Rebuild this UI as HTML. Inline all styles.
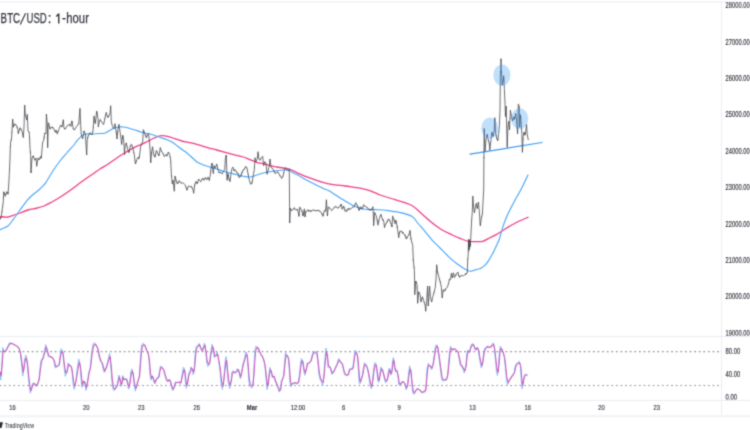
<!DOCTYPE html>
<html><head><meta charset="utf-8"><title>BTC/USD: 1-hour</title>
<style>
html,body{margin:0;padding:0;background:#fff;}
body{width:750px;height:430px;overflow:hidden;font-family:"Liberation Sans",sans-serif;}
svg{display:block;font-family:"Liberation Sans",sans-serif;}
</style></head><body>
<svg width="750" height="430" viewBox="0 0 750 430">
<rect width="750" height="430" fill="#ffffff"/>
<defs><filter id="bl" x="0" y="0" width="750" height="430" filterUnits="userSpaceOnUse"><feConvolveMatrix order="3" kernelMatrix="0.0289 0.1122 0.0289 0.1122 0.4356 0.1122 0.0289 0.1122 0.0289" divisor="1" edgeMode="duplicate" preserveAlpha="false"/></filter></defs>
<g filter="url(#bl)">

<g stroke="#ebedf3" stroke-width="1" fill="none">
<line x1="0" y1="2.0" x2="750" y2="2.0"/>
<line x1="0" y1="336.5" x2="750" y2="336.5"/>
<line x1="0" y1="400.5" x2="750" y2="400.5"/>
<line x1="721.5" y1="2" x2="721.5" y2="416"/>
</g>
<rect x="0" y="415" width="750" height="2.4" fill="#f3f4f8"/>
<g stroke="#94979f" stroke-width="1.05" stroke-dasharray="1.8 2.8" stroke-dashoffset="0.46" fill="none">
<line x1="0" y1="351.6" x2="722" y2="351.6"/>
<line x1="0" y1="385.5" x2="722" y2="385.5"/>
</g>
<path d="M0.0,216.7 C1.3,216.8 5.8,217.2 8.0,217.0 C10.2,216.8 11.3,216.0 13.3,215.3 C15.3,214.6 17.6,213.9 20.0,213.0 C22.4,212.1 25.1,210.8 28.0,210.0 C30.9,209.2 34.6,208.7 37.3,208.0 C40.0,207.3 41.8,206.9 44.0,206.0 C46.2,205.1 48.0,204.1 50.7,202.7 C53.4,201.2 56.7,199.4 60.0,197.3 C63.3,195.2 66.9,192.7 70.7,190.0 C74.5,187.3 78.9,183.7 82.7,181.0 C86.5,178.3 90.4,175.7 93.3,173.7 C96.2,171.7 97.5,170.6 100.0,169.0 C102.5,167.4 104.7,166.4 108.3,164.0 C111.9,161.6 117.2,157.5 121.7,154.7 C126.2,151.9 131.7,148.9 135.0,147.2 C138.3,145.5 139.5,145.3 141.7,144.3 C143.9,143.3 146.1,142.1 148.3,141.0 C150.5,139.9 152.8,138.6 155.0,137.7 C157.2,136.8 159.5,135.9 161.7,135.7 C163.9,135.5 166.1,136.1 168.3,136.6 C170.5,137.1 172.8,138.0 175.0,138.7 C177.2,139.4 179.5,140.4 181.7,141.0 C183.9,141.6 185.8,141.8 188.3,142.3 C190.8,142.9 194.2,143.6 196.7,144.3 C199.2,145.0 201.1,145.6 203.3,146.3 C205.5,147.0 207.8,147.7 210.0,148.3 C212.2,148.9 213.4,149.1 216.7,150.0 C220.0,150.9 225.6,152.5 230.0,153.7 C234.4,154.9 240.0,156.0 243.3,157.0 C246.6,158.0 247.8,158.8 250.0,159.7 C252.2,160.6 254.5,161.6 256.7,162.3 C258.9,163.0 261.1,163.1 263.3,163.7 C265.5,164.3 267.8,165.1 270.0,165.7 C272.2,166.2 274.5,166.6 276.7,167.0 C278.9,167.4 281.1,167.6 283.3,168.0 C285.5,168.4 287.5,168.5 290.0,169.4 C292.5,170.3 294.7,171.8 298.3,173.3 C301.9,174.9 307.5,177.1 311.7,178.7 C315.9,180.3 320.4,181.8 323.7,182.7 C327.0,183.6 328.1,183.8 331.7,184.3 C335.2,184.9 341.2,185.5 345.0,186.0 C348.8,186.5 351.4,186.9 354.3,187.3 C357.2,187.8 359.4,188.0 362.3,188.7 C365.2,189.4 368.7,190.2 371.7,191.3 C374.7,192.4 376.4,193.6 380.3,195.0 C384.2,196.4 389.9,198.0 395.0,199.7 C400.1,201.4 406.6,202.7 411.0,205.0 C415.4,207.3 418.1,210.7 421.7,213.7 C425.2,216.7 429.0,220.3 432.3,223.0 C435.6,225.7 438.4,227.7 441.7,229.7 C445.0,231.7 449.0,233.4 452.3,235.0 C455.6,236.6 459.0,237.9 461.7,239.0 C464.4,240.1 466.1,240.9 468.3,241.3 C470.5,241.7 472.6,241.6 475.0,241.6 C477.4,241.6 480.1,242.0 482.7,241.3 C485.3,240.6 488.0,238.6 490.7,237.3 C493.4,236.0 496.0,234.9 498.7,233.3 C501.4,231.8 503.6,229.9 506.7,228.0 C509.8,226.1 513.8,223.8 517.3,222.0 C520.8,220.2 526.2,218.1 528.0,217.3" fill="none" stroke="#ec3f86" stroke-width="1.3" stroke-linejoin="round" stroke-linecap="round"/>
<path d="M0.0,229.6 C0.9,229.2 3.8,228.0 5.3,227.3 C6.8,226.6 7.4,226.6 8.7,225.3 C10.0,224.0 11.4,221.9 13.3,219.3 C15.2,216.8 17.6,213.3 20.0,210.0 C22.4,206.7 25.8,201.9 28.0,199.3 C30.2,196.7 31.5,195.9 33.3,194.3 C35.1,192.8 37.4,191.1 38.7,190.0 C40.0,188.9 40.1,189.0 41.3,187.7 C42.5,186.4 44.0,185.2 46.0,182.3 C48.0,179.4 51.0,173.9 53.3,170.3 C55.6,166.8 57.8,163.9 60.0,161.0 C62.2,158.1 64.4,155.7 66.7,153.0 C69.0,150.3 72.2,147.1 74.0,145.0 C75.8,142.9 75.6,142.1 77.3,140.3 C79.0,138.6 81.3,135.6 84.0,134.5 C86.7,133.4 90.6,134.2 93.3,134.0 C96.0,133.8 98.2,133.6 100.0,133.5 C101.8,133.4 102.9,133.7 104.3,133.3 C105.7,132.9 106.7,132.1 108.3,131.3 C109.9,130.5 111.5,129.1 113.7,128.3 C115.9,127.5 119.3,126.8 121.7,126.7 C124.1,126.7 126.1,127.5 128.3,128.0 C130.5,128.6 132.8,129.3 135.0,130.0 C137.2,130.7 139.0,131.6 141.7,132.3 C144.4,133.0 148.1,133.5 151.0,134.3 C153.9,135.1 156.3,136.1 159.0,137.0 C161.7,137.9 164.8,138.8 167.0,139.7 C169.2,140.6 170.5,141.2 172.3,142.3 C174.1,143.4 176.1,145.1 177.7,146.3 C179.3,147.5 180.4,148.4 181.7,149.3 C183.0,150.2 184.3,150.9 185.7,152.0 C187.1,153.1 188.2,154.1 190.0,155.7 C191.8,157.3 194.5,160.1 196.7,161.7 C198.9,163.2 201.1,164.1 203.3,165.0 C205.5,165.9 207.8,166.3 210.0,167.0 C212.2,167.7 214.5,168.3 216.7,169.0 C218.9,169.7 221.1,170.6 223.3,171.3 C225.5,172.0 227.8,172.4 230.0,173.0 C232.2,173.6 234.5,174.1 236.7,174.7 C238.9,175.2 241.1,175.9 243.3,176.3 C245.5,176.7 247.8,177.2 250.0,177.0 C252.2,176.8 254.5,175.7 256.7,175.0 C258.9,174.3 261.1,173.6 263.3,173.0 C265.5,172.4 267.8,172.1 270.0,171.7 C272.2,171.3 274.5,171.0 276.7,170.7 C278.9,170.4 281.1,170.1 283.3,170.0 C285.5,169.9 288.6,170.0 290.0,170.3 C291.4,170.6 290.3,171.2 291.7,172.0 C293.1,172.8 296.1,174.1 298.3,175.3 C300.5,176.5 302.8,178.1 305.0,179.3 C307.2,180.5 308.6,181.1 311.7,182.7 C314.8,184.3 320.8,187.4 323.7,188.7 C326.6,190.0 327.0,189.6 329.0,190.7 C331.0,191.8 333.5,193.6 335.7,195.0 C337.9,196.4 340.1,197.9 342.3,199.3 C344.5,200.7 346.8,202.1 349.0,203.3 C351.2,204.5 353.0,205.7 355.7,206.7 C358.4,207.7 361.8,208.8 365.0,209.3 C368.2,209.8 371.6,209.4 375.0,209.6 C378.4,209.8 381.7,209.9 385.7,210.3 C389.7,210.8 394.7,211.3 399.0,212.3 C403.3,213.3 408.6,214.5 411.7,216.3 C414.8,218.1 415.4,220.3 417.7,223.0 C420.0,225.7 423.3,229.4 425.7,232.3 C428.1,235.2 430.3,238.1 432.3,240.3 C434.3,242.5 436.4,244.4 437.7,245.7 C439.0,247.0 438.1,246.1 440.0,248.0 C441.9,249.9 446.4,254.6 449.3,257.3 C452.2,260.0 454.6,262.0 457.3,264.0 C460.0,266.0 463.1,268.1 465.3,269.3 C467.5,270.5 468.9,271.2 470.7,271.3 C472.5,271.4 474.2,270.2 476.0,269.6 C477.8,269.1 479.5,269.1 481.3,268.0 C483.1,266.9 484.9,265.5 486.7,263.3 C488.5,261.1 490.4,257.5 492.0,254.7 C493.6,251.9 494.8,249.3 496.0,246.7 C497.2,244.1 498.2,242.5 499.3,239.3 C500.4,236.1 501.5,231.1 502.7,227.3 C503.9,223.5 504.9,220.7 506.7,216.7 C508.5,212.7 511.0,207.8 513.3,203.3 C515.6,198.9 518.2,194.7 520.7,190.0 C523.2,185.3 526.8,177.5 528.0,175.0" fill="none" stroke="#4aa5f7" stroke-width="1.15" stroke-linejoin="round" stroke-linecap="round"/>
<line x1="470" y1="154.2" x2="542" y2="142.5" stroke="#3b9af3" stroke-width="1.25" stroke-linecap="round"/>
<path d="M0.0,219.3 L1.3,216.7 L2.7,206.0 L3.3,202.0 L3.7,191.7 L5.3,196.3 L6.7,191.7 L8.0,194.3 L8.7,185.0 L9.3,174.3 L10.0,158.0 L10.3,148.0 L10.7,141.7 L11.5,139.0 L12.7,119.0 L13.3,127.0 L14.7,123.7 L16.7,126.3 L18.0,129.7 L18.2,133.7 L20.0,127.7 L22.0,131.0 L23.3,137.7 L24.0,127.0 L24.7,105.0 L25.3,115.0 L26.7,119.7 L27.3,114.3 L28.0,131.0 L29.3,132.3 L30.0,148.3 L30.7,155.7 L31.0,173.0 L32.0,158.3 L33.3,155.7 L34.7,160.3 L36.0,158.3 L36.7,166.3 L38.0,158.3 L39.3,159.7 L40.7,156.3 L41.3,158.3 L42.0,150.0 L42.5,143.0 L44.0,139.0 L44.7,133.0 L46.0,133.7 L46.4,114.3 L47.3,124.3 L47.7,147.7 L48.2,124.0 L48.7,123.0 L50.0,129.0 L51.3,127.0 L53.3,127.7 L55.3,132.3 L56.0,130.3 L57.3,133.7 L59.3,128.3 L60.7,125.0 L62.0,127.0 L63.3,119.7 L64.0,128.3 L65.3,129.0 L67.3,125.7 L69.3,124.3 L70.7,126.3 L72.0,121.0 L73.3,129.0 L74.7,129.7 L76.7,126.3 L78.7,123.7 L80.0,108.3 L80.7,125.7 L81.3,135.0 L82.7,139.0 L84.0,131.0 L85.3,133.7 L86.7,155.0 L87.2,140.0 L88.0,136.3 L90.0,133.0 L92.0,135.0 L93.0,131.0 L94.0,116.3 L95.3,123.7 L96.7,111.0 L98.0,119.0 L98.3,127.0 L99.3,121.7 L100.3,119.7 L102.3,123.0 L103.7,124.3 L105.0,117.7 L106.3,112.3 L107.7,117.7 L109.0,115.7 L110.0,113.7 L110.7,105.7 L111.3,121.7 L112.3,125.7 L113.7,129.0 L115.0,123.7 L116.3,132.3 L117.0,139.0 L118.3,127.0 L119.0,124.3 L120.3,133.7 L121.7,144.3 L122.7,135.0 L123.7,140.3 L124.6,154.7 L125.0,146.3 L126.3,143.0 L127.7,149.7 L129.0,152.7 L130.3,145.7 L131.7,144.5 L133.0,148.8 L134.3,154.7 L135.4,164.0 L136.6,160.0 L138.0,157.3 L139.0,158.7 L140.0,152.0 L140.5,147.0 L141.7,143.7 L142.7,142.3 L143.3,129.7 L144.3,132.3 L145.4,135.0 L146.3,137.7 L147.7,134.3 L148.6,133.7 L149.4,141.7 L150.0,148.0 L150.7,162.7 L151.7,152.0 L152.6,146.7 L153.7,154.7 L155.0,157.3 L156.3,150.5 L157.7,153.3 L159.0,156.0 L160.3,147.5 L161.7,152.0 L163.0,153.3 L164.3,156.7 L165.7,154.7 L167.0,156.0 L168.3,152.0 L169.7,154.7 L170.7,160.0 L171.3,173.3 L172.3,184.0 L173.0,180.0 L174.3,191.3 L175.0,176.0 L176.3,181.3 L177.7,184.0 L179.0,180.7 L181.0,183.3 L183.0,182.7 L185.0,184.7 L187.0,190.0 L188.3,186.0 L190.3,186.7 L192.0,187.0 L193.3,191.0 L193.7,193.3 L194.7,185.0 L196.0,181.7 L197.3,183.7 L198.7,179.0 L200.7,181.7 L202.7,178.3 L204.0,180.3 L205.3,177.7 L206.7,179.7 L208.0,177.0 L209.3,180.3 L210.3,175.0 L211.0,168.3 L212.0,163.0 L213.3,173.7 L214.0,165.7 L215.3,168.3 L216.7,164.3 L218.0,169.7 L219.3,173.0 L220.7,172.3 L222.0,173.7 L223.3,171.7 L224.7,169.7 L225.3,159.0 L226.3,155.0 L227.0,180.3 L228.0,173.7 L229.0,179.0 L230.0,181.7 L231.0,173.7 L232.0,168.3 L233.0,167.0 L234.0,171.0 L235.3,169.7 L236.7,172.3 L238.0,173.7 L239.3,177.7 L240.7,176.3 L242.0,172.3 L243.3,170.3 L244.7,168.3 L245.7,166.3 L247.0,168.3 L248.0,173.7 L249.3,180.3 L250.7,184.3 L252.0,183.0 L253.3,175.0 L254.3,169.7 L255.0,157.7 L256.0,161.7 L257.3,159.0 L258.0,151.7 L259.0,159.0 L260.0,160.3 L261.3,157.7 L262.7,156.3 L263.6,165.7 L264.7,161.7 L266.0,163.0 L267.0,174.3 L268.0,171.0 L269.3,165.7 L270.0,159.0 L271.0,167.0 L272.4,168.3 L274.0,171.0 L275.3,173.7 L276.7,171.7 L278.0,172.3 L279.3,174.3 L280.7,177.0 L282.0,178.3 L283.3,175.0 L284.4,169.7 L285.3,167.7 L286.7,169.0 L288.0,170.3 L289.3,169.7 L289.7,223.0 L290.3,208.0 L291.7,210.7 L294.3,208.0 L295.7,210.0 L297.7,209.3 L299.0,216.3 L299.7,207.3 L301.7,210.0 L303.0,216.0 L304.3,209.3 L305.0,217.0 L305.7,212.0 L307.7,210.0 L310.3,211.3 L313.0,210.0 L315.7,210.7 L318.3,210.4 L321.0,212.0 L323.0,216.3 L324.3,210.7 L325.7,211.3 L326.4,199.7 L327.4,216.0 L328.3,206.7 L330.3,208.7 L331.7,210.7 L333.7,208.0 L335.7,206.7 L337.7,208.0 L339.7,206.7 L341.3,204.0 L342.3,209.3 L343.7,206.0 L345.0,210.7 L346.3,211.3 L348.3,208.7 L350.3,209.3 L352.3,207.3 L354.3,206.7 L355.7,202.7 L357.7,206.0 L359.0,210.7 L360.3,207.3 L362.3,208.7 L363.7,204.7 L365.7,206.7 L367.7,208.0 L369.7,210.0 L371.7,209.3 L373.0,206.7 L373.7,225.7 L374.6,212.3 L376.3,216.0 L378.0,224.7 L379.5,217.7 L381.0,214.3 L382.3,219.0 L383.7,221.0 L384.5,227.7 L385.7,223.7 L387.0,222.3 L388.3,219.0 L389.7,220.3 L391.0,223.7 L392.0,227.0 L392.6,216.3 L393.7,218.3 L395.0,223.7 L396.0,220.3 L397.0,225.7 L397.7,229.7 L398.7,237.7 L399.7,231.7 L401.0,231.0 L403.0,233.0 L405.0,235.0 L406.3,239.0 L407.7,236.3 L409.0,235.0 L410.0,230.3 L411.0,239.0 L412.0,243.0 L412.7,245.3 L413.3,260.0 L414.4,270.7 L414.8,294.7 L415.7,281.0 L417.0,284.0 L417.7,303.3 L418.7,292.0 L420.0,294.0 L421.0,302.0 L422.4,296.7 L423.7,300.7 L425.0,304.7 L425.7,311.3 L426.7,300.7 L427.6,286.0 L428.3,306.0 L429.6,286.0 L430.4,296.7 L431.7,302.0 L432.7,296.7 L434.0,292.7 L435.3,287.3 L436.0,279.0 L436.7,264.7 L437.5,272.0 L438.3,275.0 L439.3,278.7 L440.3,282.0 L441.4,287.5 L442.2,298.0 L443.2,290.0 L444.7,291.0 L446.0,288.7 L447.5,287.0 L448.7,282.7 L449.5,279.0 L450.7,279.3 L451.3,273.3 L452.3,278.0 L453.3,272.7 L454.4,277.3 L455.7,275.3 L456.7,273.3 L458.0,272.0 L458.7,276.0 L460.0,277.3 L461.3,275.3 L463.3,276.0 L464.7,274.7 L466.0,274.0 L467.3,272.7 L467.7,260.0 L468.2,254.7 L468.5,239.3 L468.8,251.0 L469.1,240.5 L469.5,249.0 L469.9,239.5 L470.3,246.5 L470.6,240.7 L471.2,230.0 L471.7,219.3 L472.3,212.0 L472.8,196.0 L473.3,203.3 L474.4,212.7 L475.3,207.3 L476.3,203.3 L477.3,208.7 L478.4,202.0 L479.3,211.3 L480.3,226.0 L481.3,218.0 L482.4,214.0 L483.0,202.0 L483.7,190.0 L483.9,160.0 L484.2,128.4 L485.0,151.4 L486.0,139.6 L487.1,134.3 L488.2,139.6 L489.3,143.9 L489.8,150.3 L490.9,140.7 L491.9,132.1 L493.0,136.4 L494.1,131.0 L494.8,117.7 L495.7,133.2 L496.7,138.0 L497.8,140.7 L498.7,133.2 L499.4,125.7 L500.0,110.0 L500.4,72.0 L501.0,70.0 L501.0,58.6 L501.0,70.0 L501.6,72.0 L502.2,85.3 L503.2,80.0 L503.7,75.7 L504.4,89.6 L505.1,106.0 L505.5,116.7 L506.2,106.0 L506.6,125.0 L507.2,147.5 L508.0,125.7 L508.7,121.2 L509.5,130.0 L510.4,110.3 L511.5,116.7 L512.6,121.0 L513.6,116.7 L514.7,118.9 L515.8,113.5 L516.8,124.2 L517.6,134.0 L518.3,104.4 L519.2,106.0 L519.7,127.4 L520.5,114.6 L521.3,125.3 L521.9,134.3 L522.4,152.4 L523.2,136.4 L524.0,132.1 L525.1,135.3 L525.8,131.0 L526.5,124.4 L527.2,134.0 L528.3,140.1" fill="none" stroke="#44464c" stroke-width="0.78" stroke-linejoin="round"/>
<path d="M0.40,218.0V219.6M1.17,216.0V217.7M1.94,210.9V212.2M2.70,205.6V206.4M3.47,196.3V198.1M4.24,192.2V194.7M5.77,193.3V195.1M7.31,192.4V193.4M8.07,192.0V193.8M10.38,145.8V147.2M11.14,139.7V141.3M11.91,131.4V133.1M13.45,125.4V127.8M14.21,123.9V125.8M16.52,124.6V126.5M17.28,126.6V128.3M18.82,130.5V132.9M21.12,128.4V130.6M26.49,117.9V120.1M28.80,131.0V132.9M29.56,137.5V138.9M30.33,151.4V153.0M31.10,170.9V172.3M32.63,156.2V158.0M35.70,158.0V159.5M38.01,157.8V158.9M38.77,158.3V160.1M39.54,158.8V159.9M40.31,156.3V158.7M44.15,136.4V139.0M46.45,114.1V115.3M47.98,133.8V134.7M48.75,122.5V123.6M49.52,126.3V127.2M50.29,128.2V129.9M51.82,126.6V127.9M52.59,127.0V128.8M55.66,130.8V132.0M56.43,130.1V131.9M57.19,132.0V134.4M57.96,131.0V132.2M61.80,126.0V127.2M64.87,128.2V130.0M69.47,123.6V125.3M70.24,125.3V126.3M71.01,123.9V126.5M71.78,120.5V123.4M73.31,128.4V129.6M74.08,128.8V130.4M78.68,122.6V125.1M81.75,135.1V137.0M84.06,130.3V132.6M85.59,137.7V138.6M87.89,135.5V138.3M89.43,133.0V134.4M90.20,131.7V134.3M92.50,131.7V134.3M93.27,126.5V127.7M94.03,115.5V117.1M94.80,120.4V122.3M95.57,120.4V122.3M97.10,112.1V114.4M99.41,120.7V122.0M100.17,118.7V120.5M103.24,123.0V124.8M104.78,117.8V119.4M105.55,114.2V116.3M108.62,115.3V117.2M116.29,131.3V133.7M117.83,130.9V132.2M118.59,125.3V126.2M121.66,142.9V145.1M122.43,136.1V138.9M123.20,136.2V138.4M126.27,142.3V144.0M127.04,146.0V147.2M128.57,150.7V152.5M129.34,150.2V151.9M130.87,143.7V146.5M132.41,146.2V147.2M133.94,152.6V153.9M136.25,160.7V162.6M138.55,157.7V159.2M139.32,156.2V158.0M141.62,142.6V144.3M143.92,130.4V132.7M144.69,132.8V134.2M145.46,134.7V135.7M146.23,136.9V138.1M146.99,134.8V136.7M148.53,133.0V134.1M149.30,140.3V141.8M150.83,160.4V162.7M151.60,151.8V153.9M153.90,154.2V156.2M155.44,153.7V156.2M156.97,151.1V152.2M157.74,153.0V154.6M158.51,154.5V155.4M161.58,151.0V152.2M163.11,152.8V154.2M166.18,153.7V155.9M166.95,155.6V156.7M169.25,152.9V154.1M170.02,156.0V157.2M170.79,161.6V162.5M171.55,175.0V176.9M175.39,176.9V179.1M176.16,179.6V181.8M176.93,181.2V183.9M180.00,181.1V182.9M186.14,187.4V188.2M186.90,189.3V191.0M191.51,185.7V188.1M194.58,184.8V186.6M195.35,182.7V184.5M196.11,180.7V183.3M197.65,181.7V183.7M200.72,181.2V182.3M202.25,178.1V179.4M203.02,178.2V179.9M205.32,176.8V178.6M206.86,178.0V179.9M209.16,179.1V181.2M210.70,170.6V171.8M212.23,163.9V165.4M214.53,165.5V167.7M216.84,163.5V165.7M217.60,167.7V168.9M219.14,172.1V173.3M219.91,171.4V173.0M222.21,172.0V174.5M223.74,170.3V171.8M226.05,155.2V156.7M226.81,173.1V174.8M227.58,175.0V177.1M228.35,174.6V176.1M229.12,177.9V180.7M234.49,169.3V171.4M236.79,172.0V173.8M237.56,172.4V173.9M238.33,173.5V176.2M239.09,176.0V177.7M240.63,175.9V176.9M241.40,172.8V175.1M242.16,170.7V173.5M242.93,170.4V171.4M243.70,169.0V170.1M244.47,168.0V169.6M246.77,167.1V168.9M247.54,170.5V171.6M248.30,173.8V175.7M251.37,183.0V184.2M252.14,181.3V183.6M254.44,166.9V168.4M257.51,156.0V158.2M260.58,158.7V159.6M267.49,171.4V173.3M269.79,160.5V161.6M272.10,167.6V168.9M273.63,169.8V171.4M274.40,171.2V172.7M278.24,172.1V174.1M279.77,174.9V176.1M281.31,177.0V178.7M282.84,175.8V176.9M283.61,172.4V174.1M286.68,167.5V169.7M288.21,169.6V171.4M288.98,168.4V170.7M289.75,221.2V222.6M292.05,209.6V210.9M293.59,208.4V209.1M294.35,206.7V209.4M297.42,208.9V210.8M298.96,215.0V216.8M299.73,206.6V207.8M300.49,207.7V209.1M302.03,210.1V212.1M302.80,213.8V216.3M303.56,212.7V214.0M304.33,208.2V210.2M305.10,214.9V216.6M305.87,210.6V213.1M306.63,210.7V211.4M308.17,209.0V211.6M308.94,210.0V212.1M310.47,210.1V211.9M311.24,210.5V212.1M314.31,209.8V211.2M316.61,210.0V211.4M318.91,209.5V211.9M321.98,213.4V214.8M323.52,213.5V215.3M324.29,210.4V211.1M325.82,207.8V210.7M327.36,214.9V215.7M329.66,207.5V208.9M334.26,206.3V208.3M335.80,205.6V207.3M336.57,206.7V207.7M338.87,206.5V208.7M340.40,204.2V206.6M341.94,206.5V208.7M344.24,207.3V208.4M345.01,209.2V211.7M346.54,209.6V211.8M347.31,208.8V211.4M348.08,208.0V210.0M348.84,208.1V209.3M349.61,208.5V210.1M351.15,208.1V209.1M352.68,206.5V207.7M354.98,204.3V205.5M357.29,204.8V206.5M358.05,206.6V208.0M359.59,208.2V209.9M360.36,206.0V208.8M361.12,207.3V209.1M361.89,208.1V209.8M362.66,206.4V208.5M364.96,205.6V206.9M367.26,206.7V208.5M368.80,208.5V210.0M370.33,208.9V211.0M371.87,208.5V210.4M374.17,217.3V219.4M377.24,219.6V221.4M378.01,223.3V225.9M378.78,220.5V221.9M380.31,215.4V216.5M382.61,218.5V220.7M383.38,219.2V221.0M386.45,222.1V223.9M387.22,220.7V222.6M387.99,219.5V220.8M389.52,218.9V221.4M391.06,223.0V224.3M391.82,225.6V226.8M392.59,215.5V216.8M394.13,218.9V221.3M395.66,220.5V222.2M397.20,225.5V228.3M399.50,231.4V233.8M401.80,230.6V233.2M402.57,231.8V233.8M403.34,232.0V234.0M404.87,234.0V236.3M405.64,236.4V237.9M406.41,238.4V239.3M407.17,235.9V238.4M408.71,234.0V235.7M411.01,237.7V240.0M413.31,258.7V261.2M414.08,266.4V268.2M416.38,281.4V283.4M417.15,287.0V288.6M418.69,291.1V293.6M420.99,301.6V302.3M421.76,298.1V300.0M424.06,301.2V302.9M424.83,303.9V304.9M425.59,309.6V310.9M427.90,293.5V295.4M428.66,299.0V301.0M429.43,288.2V289.6M431.73,301.2V302.1M434.04,291.5V293.4M436.34,270.7V272.4M437.87,272.8V273.8M439.41,278.1V280.5M440.18,281.1V282.6M443.25,289.4V290.7M444.01,289.2V291.8M445.55,288.2V290.7M448.62,282.6V283.6M449.39,278.8V280.7M452.46,276.2V278.0M454.76,275.7V278.2M455.53,274.2V275.9M456.29,273.5V275.3M458.60,274.1V276.1M459.36,275.3V277.7M465.50,273.1V275.3M466.27,273.2V274.8M467.04,271.6V273.4M467.81,258.4V260.3M468.57,241.8V242.6M469.34,244.5V246.7M471.64,219.5V221.2M474.71,209.5V212.2M476.25,203.0V203.9M477.02,205.9V208.4M480.09,222.5V223.3M481.62,216.1V217.6M482.39,213.4V214.7M483.92,156.7V158.8M486.99,134.0V135.6M488.53,139.7V141.8M489.30,142.6V144.3M490.83,141.0V141.8M493.13,134.8V136.6M494.67,119.3V120.9M496.20,134.2V136.3M496.97,137.5V139.6M497.74,139.5V140.9M501.58,71.1V72.7M503.11,79.1V80.8M503.88,78.7V80.7M505.41,113.1V115.0M510.02,117.9V119.1M513.09,118.1V120.1M514.62,117.9V120.1M515.39,115.0V116.2M517.69,129.5V130.6M518.46,103.8V105.2M519.23,106.8V108.8M520.76,116.7V118.6M521.53,127.3V130.0M523.07,138.5V140.1M523.83,132.4V133.8M524.60,133.1V135.1" fill="none" stroke="#44464c" stroke-width="0.55" stroke-opacity="0.75"/>
<g fill="#2f96f3" fill-opacity="0.30">
<ellipse cx="501.9" cy="75.1" rx="8.5" ry="10.7"/>
<ellipse cx="489.8" cy="128.3" rx="8.5" ry="10.7"/>
<ellipse cx="519.7" cy="118.7" rx="8.5" ry="10.5"/>
</g>
<path d="M-0.5,372.1 L0.7,380.1 L1.7,365.0 L2.7,347.5 L4.2,351.6 L6.1,350.2 L7.6,346.7 L9.5,342.8 L12.0,343.1 L14.2,344.9 L16.4,345.7 L18.6,347.3 L20.0,351.3 L21.5,363.7 L22.7,376.1 L23.7,368.5 L24.7,358.3 L25.9,355.1 L27.1,362.9 L28.1,374.8 L29.3,386.6 L30.3,393.2 L31.5,388.5 L32.5,383.4 L34.0,382.9 L35.9,386.6 L37.3,384.7 L38.8,380.3 L39.8,370.2 L41.0,360.4 L42.8,357.8 L44.2,352.3 L45.7,344.6 L46.7,348.7 L48.2,356.5 L50.1,357.1 L52.0,357.2 L53.8,360.4 L55.2,367.9 L57.0,367.0 L58.9,365.7 L59.9,356.7 L61.1,348.7 L62.5,350.1 L63.7,363.1 L65.2,376.3 L66.7,373.3 L68.1,362.8 L69.6,364.9 L71.1,365.9 L72.1,372.4 L73.3,385.5 L74.3,389.3 L75.7,382.0 L77.2,369.3 L78.7,358.9 L79.9,363.6 L80.9,376.9 L81.9,387.5 L83.1,380.9 L84.3,381.4 L86.0,390.4 L87.2,383.3 L88.6,373.3 L90.1,368.3 L91.6,353.0 L93.0,344.0 L94.5,342.7 L96.3,345.1 L97.7,348.9 L99.2,357.7 L100.7,362.0 L102.1,363.4 L103.3,369.7 L104.3,372.6 L106.0,368.0 L107.4,362.8 L108.9,356.2 L109.6,353.2 L110.7,364.6 L111.8,380.5 L113.0,389.1 L114.0,390.7 L115.5,388.6 L117.0,385.3 L118.0,379.9 L118.9,375.1 L119.9,380.3 L120.9,386.7 L121.8,382.4 L122.5,375.5 L123.6,379.9 L125.0,378.7 L126.5,378.9 L127.7,385.8 L128.7,389.3 L129.7,382.9 L130.9,371.6 L131.8,368.9 L132.8,372.4 L133.8,382.7 L135.3,391.2 L136.5,385.9 L137.9,380.2 L139.1,377.8 L140.0,364.6 L140.9,351.1 L141.9,344.3 L143.4,343.3 L144.8,345.3 L146.3,350.3 L147.8,352.2 L148.9,358.8 L150.0,375.1 L151.0,380.1 L152.2,375.7 L153.6,380.9 L154.6,384.0 L155.8,379.9 L157.3,377.6 L158.5,377.8 L159.5,370.6 L160.5,366.0 L162.0,367.2 L163.4,369.6 L164.9,375.6 L166.4,380.7 L167.5,381.9 L169.0,379.0 L170.2,381.3 L171.7,387.9 L172.7,390.7 L173.9,387.6 L175.2,381.9 L176.6,382.4 L178.5,382.3 L180.5,384.3 L181.9,376.0 L183.4,367.0 L184.4,368.9 L185.4,381.5 L186.3,388.3 L187.3,383.2 L188.5,374.0 L190.0,371.1 L191.0,366.9 L192.2,369.4 L193.2,374.7 L194.2,369.1 L195.1,354.7 L196.1,346.7 L197.6,345.2 L199.1,343.5 L200.5,348.7 L202.0,351.8 L203.5,346.1 L204.5,343.0 L205.7,352.2 L206.8,363.1 L207.9,366.5 L209.3,364.9 L210.7,351.7 L212.1,344.2 L213.2,348.7 L214.3,357.7 L215.7,355.7 L217.1,351.9 L218.6,360.2 L220.1,371.9 L221.2,384.1 L222.4,389.5 L223.4,382.1 L224.5,369.7 L225.3,359.7 L226.1,356.6 L227.1,369.7 L228.3,383.5 L229.7,388.6 L230.9,381.3 L231.9,371.8 L233.3,370.8 L234.7,373.3 L236.2,371.8 L237.4,368.5 L238.5,370.3 L239.6,376.3 L240.3,378.8 L241.5,372.5 L242.9,364.1 L244.4,358.6 L245.9,351.8 L246.9,353.7 L247.9,366.9 L248.8,380.8 L249.8,386.6 L251.3,387.7 L252.5,387.5 L253.5,376.0 L254.4,358.7 L255.2,348.3 L256.4,345.9 L257.9,347.4 L259.4,351.9 L260.8,355.0 L262.3,356.6 L263.8,360.7 L264.9,366.3 L266.0,378.5 L267.0,389.6 L267.9,385.5 L268.9,373.7 L269.9,367.3 L271.1,371.9 L272.3,377.6 L273.7,375.8 L274.9,380.4 L276.2,383.5 L277.7,387.4 L279.1,392.1 L280.2,390.8 L281.3,380.7 L282.5,378.7 L283.5,376.3 L284.6,361.9 L285.5,352.4 L286.9,354.9 L288.1,356.6 L289.0,366.5 L289.9,382.6 L290.9,386.8 L292.3,383.7 L294.5,382.5 L296.7,384.0 L298.2,383.6 L299.4,375.2 L300.4,364.7 L301.4,358.5 L302.6,360.6 L303.6,370.5 L304.8,375.4 L306.0,369.2 L307.2,362.9 L308.9,363.1 L310.7,361.3 L312.1,355.1 L313.3,351.8 L315.1,351.8 L316.5,351.4 L317.7,360.6 L318.9,374.6 L320.1,379.4 L321.5,382.4 L322.6,385.3 L323.6,378.2 L324.8,360.0 L325.9,348.0 L327.0,353.8 L328.0,367.5 L329.2,366.8 L330.3,368.6 L331.8,374.5 L333.3,372.6 L335.0,368.3 L336.8,364.1 L338.7,358.5 L340.2,361.4 L342.1,363.7 L343.5,370.8 L344.6,374.8 L346.0,375.5 L347.9,375.6 L349.4,368.9 L351.2,369.0 L352.6,369.7 L353.8,359.8 L354.8,350.6 L356.0,350.7 L357.3,355.2 L358.2,367.1 L359.2,383.3 L360.0,384.0 L361.1,378.7 L362.2,376.0 L363.2,369.0 L364.4,362.6 L366.1,364.5 L367.6,369.5 L369.0,377.9 L370.2,385.9 L371.4,388.8 L372.4,381.6 L373.4,370.9 L374.6,362.9 L375.8,363.0 L376.8,371.5 L377.8,381.0 L378.7,382.6 L379.7,374.7 L380.9,366.9 L382.2,369.1 L383.4,374.6 L384.6,379.9 L385.6,382.8 L387.1,380.2 L388.3,371.5 L389.3,368.0 L390.5,375.3 L391.5,373.3 L392.5,361.3 L393.4,357.5 L394.4,367.6 L395.4,371.7 L396.6,369.9 L397.8,375.7 L398.8,385.1 L400.3,385.2 L401.7,381.6 L403.2,381.2 L404.7,384.2 L406.1,389.8 L407.3,386.6 L408.3,375.5 L409.5,365.9 L410.5,368.4 L411.6,382.3 L412.7,392.8 L413.9,394.5 L415.4,390.9 L416.8,388.4 L418.6,389.2 L420.4,391.2 L421.8,393.1 L423.3,392.3 L425.4,391.9 L426.1,382.9 L427.1,367.6 L428.3,363.2 L429.8,365.6 L431.5,369.7 L432.7,365.9 L434.2,355.3 L435.3,346.7 L436.4,344.4 L437.4,345.5 L438.6,354.5 L440.0,366.2 L441.5,378.9 L442.7,381.1 L444.4,380.5 L446.2,380.4 L447.4,376.4 L448.4,364.6 L449.6,350.7 L450.6,346.2 L452.1,350.1 L453.2,348.9 L454.7,348.6 L456.2,350.6 L457.6,350.9 L458.8,356.7 L460.3,365.3 L462.0,366.9 L463.5,370.3 L464.2,373.0 L465.7,367.1 L466.7,354.3 L467.6,349.9 L469.1,352.5 L470.2,348.3 L471.6,344.1 L473.0,343.7 L474.2,347.7 L475.5,350.3 L477.0,347.0 L478.2,349.3 L479.3,357.2 L480.5,364.2 L481.4,368.1 L482.5,362.7 L483.7,351.7 L484.9,348.1 L486.2,347.1 L487.4,346.1 L489.1,347.8 L490.6,347.1 L492.1,344.3 L493.3,342.8 L494.3,348.2 L495.5,360.3 L496.5,371.8 L497.5,375.7 L498.4,367.5 L499.4,350.8 L500.4,346.1 L501.6,348.6 L503.1,352.6 L504.3,357.5 L505.3,367.1 L506.3,378.3 L507.5,384.9 L508.9,381.3 L510.7,377.6 L512.6,374.8 L514.1,373.0 L515.2,366.0 L516.3,363.8 L517.7,362.6 L519.2,361.2 L520.4,365.7 L521.3,380.7 L522.1,388.8 L523.3,380.1 L524.3,374.9 L525.8,374.0 L527.0,375.4" fill="none" stroke="#7cc0fa" stroke-width="0.95" stroke-linejoin="round"/>
<path d="M0.0,371.7 L1.2,376.1 L2.2,364.4 L3.2,350.5 L4.7,351.9 L6.6,349.7 L8.1,346.8 L10.0,343.6 L12.5,343.6 L14.7,345.0 L16.9,346.1 L19.1,348.3 L20.5,352.7 L22.0,362.9 L23.2,372.5 L24.2,367.3 L25.2,360.0 L26.4,357.8 L27.6,364.4 L28.6,374.7 L29.8,384.9 L30.8,390.8 L32.0,387.9 L33.0,384.2 L34.5,383.5 L36.4,385.7 L37.8,383.5 L39.3,379.1 L40.3,370.3 L41.5,361.5 L43.3,357.8 L44.7,352.7 L46.2,346.8 L47.2,349.7 L48.7,355.6 L50.6,356.8 L52.5,357.8 L54.3,360.7 L55.7,366.6 L57.5,365.9 L59.4,364.4 L60.4,357.1 L61.6,351.2 L63.0,352.7 L64.2,362.9 L65.7,373.2 L67.2,371.7 L68.6,364.4 L70.1,365.9 L71.6,367.3 L72.6,373.2 L73.8,383.5 L74.8,386.4 L76.2,380.5 L77.7,370.3 L79.2,362.2 L80.4,365.9 L81.4,376.1 L82.4,384.9 L83.6,381.3 L84.8,382.0 L86.5,387.9 L87.7,382.0 L89.1,373.2 L90.6,367.3 L92.1,354.1 L93.5,346.1 L95.0,344.2 L96.8,346.1 L98.2,349.7 L99.7,357.1 L101.2,361.5 L102.6,363.7 L103.8,368.8 L104.8,371.0 L106.5,367.3 L107.9,362.9 L109.4,357.8 L110.1,356.3 L111.2,365.9 L112.3,379.1 L113.5,387.1 L114.5,389.3 L116.0,387.9 L117.5,384.9 L118.5,380.5 L119.4,376.9 L120.4,380.5 L121.4,384.9 L122.3,382.0 L123.0,376.9 L124.1,379.8 L125.5,379.1 L127.0,379.8 L128.2,384.9 L129.2,387.1 L130.2,382.0 L131.4,373.2 L132.3,371.0 L133.3,373.9 L134.3,382.0 L135.8,388.6 L137.0,384.9 L138.4,379.8 L139.6,376.1 L140.5,364.4 L141.4,352.7 L142.4,346.1 L143.9,344.6 L145.3,346.1 L146.8,350.5 L148.3,353.4 L149.4,360.0 L150.5,373.2 L151.5,378.3 L152.7,376.4 L154.1,380.5 L155.1,382.7 L156.3,379.8 L157.8,377.6 L159.0,376.9 L160.0,371.0 L161.0,367.3 L162.5,368.1 L163.9,370.3 L165.4,375.4 L166.9,379.8 L168.0,381.3 L169.5,379.8 L170.7,382.0 L172.2,387.1 L173.2,389.3 L174.4,387.1 L175.7,382.7 L177.1,382.7 L179.0,382.0 L181.0,382.7 L182.4,376.1 L183.9,369.5 L184.9,371.0 L185.9,380.5 L186.8,385.7 L187.8,382.0 L189.0,374.7 L190.5,371.7 L191.5,368.1 L192.7,369.5 L193.7,372.5 L194.7,367.3 L195.6,355.6 L196.6,348.3 L198.1,346.1 L199.6,344.6 L201.0,348.3 L202.5,350.5 L204.0,346.8 L205.0,345.3 L206.2,352.7 L207.3,361.5 L208.4,364.4 L209.8,362.9 L211.2,352.7 L212.6,346.8 L213.7,349.7 L214.8,356.3 L216.2,355.6 L217.6,354.1 L219.1,361.5 L220.6,371.7 L221.7,382.0 L222.9,386.4 L223.9,380.5 L225.0,370.3 L225.8,362.2 L226.6,360.0 L227.6,370.3 L228.8,381.3 L230.2,385.7 L231.4,380.5 L232.4,373.2 L233.8,371.7 L235.2,372.9 L236.7,371.7 L237.9,369.5 L239.0,371.0 L240.1,375.4 L240.8,376.9 L242.0,371.7 L243.4,364.4 L244.9,359.3 L246.4,354.1 L247.4,356.3 L248.4,367.3 L249.3,379.1 L250.3,384.9 L251.8,386.1 L253.0,384.9 L254.0,374.7 L254.9,360.0 L255.7,350.5 L256.9,347.5 L258.4,348.3 L259.9,351.9 L261.3,354.9 L262.8,357.1 L264.3,361.5 L265.4,367.3 L266.5,377.6 L267.5,386.4 L268.4,383.5 L269.4,374.7 L270.4,369.5 L271.6,372.5 L272.8,376.9 L274.2,376.4 L275.4,380.5 L276.7,383.5 L278.2,387.1 L279.6,390.5 L280.7,389.3 L281.8,381.3 L283.0,378.3 L284.0,374.7 L285.1,362.9 L286.0,354.9 L287.4,356.3 L288.6,358.5 L289.5,367.3 L290.4,380.5 L291.4,384.9 L292.8,383.5 L295.0,382.7 L297.2,383.2 L298.7,382.0 L299.9,374.7 L300.9,365.9 L301.9,360.7 L303.1,362.2 L304.1,369.5 L305.3,373.2 L306.5,368.8 L307.7,363.7 L309.4,362.9 L311.2,360.7 L312.6,355.6 L313.8,352.7 L315.6,352.7 L317.0,353.4 L318.2,361.5 L319.4,373.2 L320.6,378.3 L322.0,381.3 L323.1,382.7 L324.1,376.1 L325.3,361.5 L326.4,351.9 L327.5,355.6 L328.5,365.9 L329.7,366.6 L330.8,368.8 L332.3,373.2 L333.8,371.7 L335.5,368.1 L337.3,364.4 L339.2,360.0 L340.7,362.2 L342.6,364.4 L344.0,370.3 L345.1,373.9 L346.5,374.7 L348.4,374.7 L349.9,369.5 L351.7,368.8 L353.1,368.1 L354.3,360.0 L355.3,352.7 L356.5,352.7 L357.8,357.1 L358.7,367.3 L359.7,380.5 L360.5,382.0 L361.6,378.3 L362.7,375.4 L363.7,369.5 L364.9,364.4 L366.6,365.9 L368.1,370.3 L369.5,377.6 L370.7,384.2 L371.9,386.4 L372.9,380.5 L373.9,371.7 L375.1,365.1 L376.3,365.1 L377.3,371.7 L378.3,379.1 L379.2,380.5 L380.2,374.7 L381.4,368.8 L382.7,370.3 L383.9,374.7 L385.1,379.1 L386.1,381.3 L387.6,379.1 L388.8,372.5 L389.8,369.5 L391.0,373.9 L392.0,371.7 L393.0,362.9 L393.9,360.0 L394.9,367.3 L395.9,371.0 L397.1,371.0 L398.3,376.1 L399.3,383.5 L400.8,384.2 L402.2,382.0 L403.7,382.0 L405.2,384.2 L406.6,387.9 L407.8,384.9 L408.8,376.1 L410.0,368.8 L411.0,371.0 L412.1,382.0 L413.2,390.8 L414.4,393.0 L415.9,390.8 L417.3,389.0 L419.1,389.6 L420.9,391.1 L422.3,392.5 L423.8,391.5 L425.9,390.0 L426.6,382.0 L427.6,369.5 L428.8,365.1 L430.3,365.9 L432.0,368.1 L433.2,364.4 L434.7,355.6 L435.8,348.3 L436.9,346.1 L437.9,347.5 L439.1,355.6 L440.5,365.9 L442.0,376.9 L443.2,379.8 L444.9,379.8 L446.7,379.1 L447.9,374.7 L448.9,364.4 L450.1,352.7 L451.1,348.0 L452.6,350.0 L453.7,349.0 L455.2,349.0 L456.7,350.9 L458.1,351.9 L459.3,357.1 L460.8,364.4 L462.5,366.6 L464.0,369.5 L464.7,371.0 L466.2,365.9 L467.2,355.6 L468.1,351.2 L469.6,351.9 L470.7,348.3 L472.1,345.0 L473.5,344.6 L474.7,347.5 L476.0,349.7 L477.5,348.0 L478.7,350.5 L479.8,357.1 L481.0,362.9 L481.9,365.9 L483.0,361.5 L484.2,352.7 L485.4,349.0 L486.7,347.5 L487.9,346.5 L489.6,347.5 L491.1,346.8 L492.6,345.0 L493.8,344.6 L494.8,349.7 L496.0,360.0 L497.0,369.5 L498.0,372.5 L498.9,365.9 L499.9,352.7 L500.9,348.3 L502.1,349.7 L503.6,353.4 L504.8,358.5 L505.8,367.3 L506.8,376.9 L508.0,382.7 L509.4,380.5 L511.2,377.6 L513.1,374.7 L514.6,372.5 L515.7,366.6 L516.8,364.4 L518.2,363.2 L519.7,362.9 L520.9,367.3 L521.8,379.1 L522.6,385.7 L523.8,379.8 L524.8,375.8 L526.3,374.7 L527.5,375.4" fill="none" stroke="#cf55b8" stroke-width="1.05" stroke-linejoin="round"/>
<path d="M58.15,13.5 H59.45 V23.5 H58.05 V15.7 L56.3,17.0 L55.8,16.1 L58.15,13.5 Z" fill="#33363f"/>
<line x1="20.3" y1="24.6" x2="25.6" y2="13.2" stroke="#33363f" stroke-width="1.15"/>
<g font-size="14.4" fill="#33363f" stroke="#33363f" stroke-width="0.25">
<text x="0.6" y="23.4" textLength="19.6" lengthAdjust="spacingAndGlyphs">BTC</text>
<text x="26.5" y="23.4" textLength="20.2" lengthAdjust="spacingAndGlyphs">USD</text>
<text x="47.7" y="23.4" textLength="3.6" lengthAdjust="spacingAndGlyphs">:</text>
<text x="62.0" y="23.4" textLength="4.0" lengthAdjust="spacingAndGlyphs">-</text>
<text x="66.3" y="23.4" textLength="22.6" lengthAdjust="spacingAndGlyphs">hour</text>
</g>
<text x="725.6" y="7.7" font-size="8.6" fill="#33363f" stroke="#33363f" stroke-width="0.18" textLength="24.1" lengthAdjust="spacingAndGlyphs">28000.00</text>
<text x="725.6" y="44.5" font-size="8.6" fill="#33363f" stroke="#33363f" stroke-width="0.18" textLength="24.1" lengthAdjust="spacingAndGlyphs">27000.00</text>
<text x="725.6" y="80.9" font-size="8.6" fill="#33363f" stroke="#33363f" stroke-width="0.18" textLength="24.1" lengthAdjust="spacingAndGlyphs">26000.00</text>
<text x="725.6" y="117.3" font-size="8.6" fill="#33363f" stroke="#33363f" stroke-width="0.18" textLength="24.1" lengthAdjust="spacingAndGlyphs">25000.00</text>
<text x="725.6" y="153.7" font-size="8.6" fill="#33363f" stroke="#33363f" stroke-width="0.18" textLength="24.1" lengthAdjust="spacingAndGlyphs">24000.00</text>
<text x="725.6" y="190.1" font-size="8.6" fill="#33363f" stroke="#33363f" stroke-width="0.18" textLength="24.1" lengthAdjust="spacingAndGlyphs">23000.00</text>
<text x="725.6" y="226.5" font-size="8.6" fill="#33363f" stroke="#33363f" stroke-width="0.18" textLength="24.1" lengthAdjust="spacingAndGlyphs">22000.00</text>
<text x="725.6" y="262.9" font-size="8.6" fill="#33363f" stroke="#33363f" stroke-width="0.18" textLength="24.1" lengthAdjust="spacingAndGlyphs">21000.00</text>
<text x="725.6" y="299.3" font-size="8.6" fill="#33363f" stroke="#33363f" stroke-width="0.18" textLength="24.1" lengthAdjust="spacingAndGlyphs">20000.00</text>
<text x="725.6" y="335.7" font-size="8.6" fill="#33363f" stroke="#33363f" stroke-width="0.18" textLength="24.1" lengthAdjust="spacingAndGlyphs">19000.00</text>
<text x="725.6" y="354.3" font-size="8.6" fill="#33363f" stroke="#33363f" stroke-width="0.18" textLength="14.6" lengthAdjust="spacingAndGlyphs">80.00</text>
<text x="725.6" y="377.1" font-size="8.6" fill="#33363f" stroke="#33363f" stroke-width="0.18" textLength="14.6" lengthAdjust="spacingAndGlyphs">40.00</text>
<text x="725.6" y="399.6" font-size="8.6" fill="#33363f" stroke="#33363f" stroke-width="0.18" textLength="11.4" lengthAdjust="spacingAndGlyphs">0.00</text>
<text x="9.2" y="410.4" font-size="8.0" fill="#33363f" stroke="#33363f" stroke-width="0.15" textLength="6.5" lengthAdjust="spacingAndGlyphs">16</text>
<text x="83.0" y="410.4" font-size="8.0" fill="#33363f" stroke="#33363f" stroke-width="0.15" textLength="6.5" lengthAdjust="spacingAndGlyphs">20</text>
<text x="137.9" y="410.4" font-size="8.0" fill="#33363f" stroke="#33363f" stroke-width="0.15" textLength="6.5" lengthAdjust="spacingAndGlyphs">23</text>
<text x="193.4" y="410.4" font-size="8.0" fill="#33363f" stroke="#33363f" stroke-width="0.15" textLength="6.5" lengthAdjust="spacingAndGlyphs">26</text>
<text x="246.8" y="410.4" font-size="8.0" fill="#33363f" stroke="#33363f" stroke-width="0.15" font-weight="bold" textLength="10.4" lengthAdjust="spacingAndGlyphs">Mar</text>
<text x="290.7" y="410.4" font-size="8.0" fill="#33363f" stroke="#33363f" stroke-width="0.15" textLength="14.6" lengthAdjust="spacingAndGlyphs">12:00</text>
<text x="342.1" y="410.4" font-size="8.0" fill="#33363f" stroke="#33363f" stroke-width="0.15" textLength="3.3" lengthAdjust="spacingAndGlyphs">6</text>
<text x="397.4" y="410.4" font-size="8.0" fill="#33363f" stroke="#33363f" stroke-width="0.15" textLength="3.3" lengthAdjust="spacingAndGlyphs">9</text>
<text x="469.2" y="410.4" font-size="8.0" fill="#33363f" stroke="#33363f" stroke-width="0.15" textLength="6.5" lengthAdjust="spacingAndGlyphs">13</text>
<text x="524.5" y="410.4" font-size="8.0" fill="#33363f" stroke="#33363f" stroke-width="0.15" textLength="6.5" lengthAdjust="spacingAndGlyphs">16</text>
<text x="598.2" y="410.4" font-size="8.0" fill="#33363f" stroke="#33363f" stroke-width="0.15" textLength="6.5" lengthAdjust="spacingAndGlyphs">20</text>
<text x="653.5" y="410.4" font-size="8.0" fill="#33363f" stroke="#33363f" stroke-width="0.15" textLength="6.5" lengthAdjust="spacingAndGlyphs">23</text>
<path d="M-2,422.2 L3.0,422.2 L1.5,428 L-2,428 Z" fill="#2a2e39"/>
<text x="4.8" y="428" font-size="7.6" font-weight="bold" fill="#5d606a" textLength="29.2" lengthAdjust="spacingAndGlyphs">TradingView</text>
</g></svg></body></html>
